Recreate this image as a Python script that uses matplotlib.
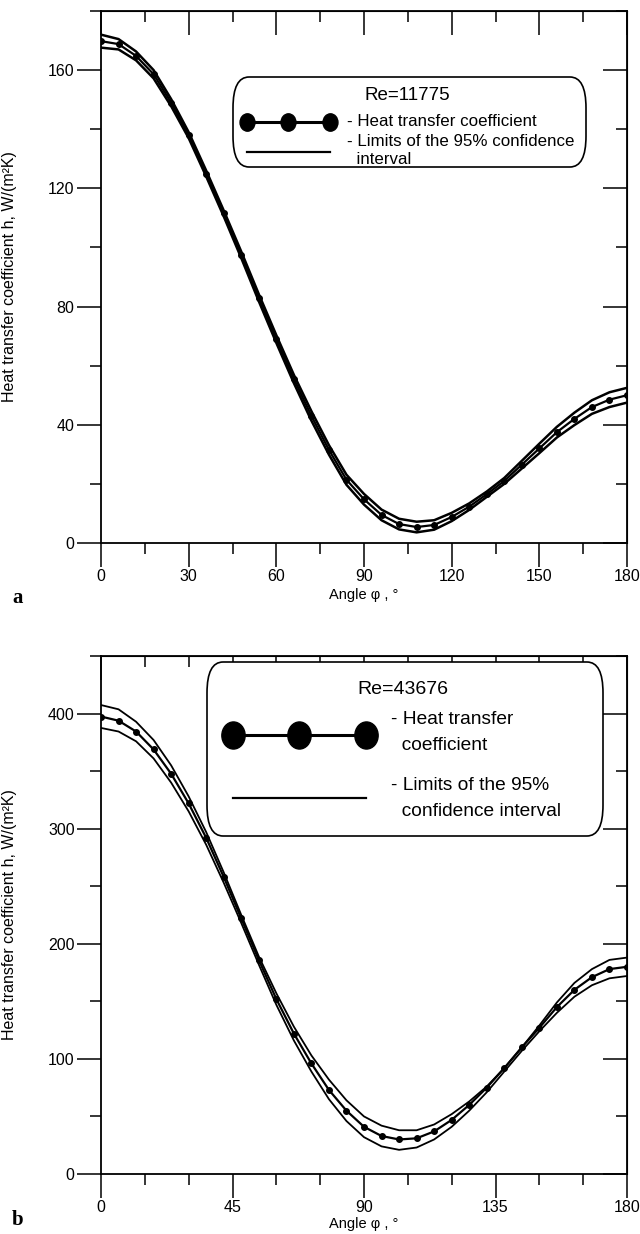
import numpy as np
import matplotlib.pyplot as plt
from matplotlib.patches import FancyBboxPatch
from matplotlib.lines import Line2D
from matplotlib.path import Path
from matplotlib.transforms import Affine2D
from matplotlib.ticker import MultipleLocator

plt.rcParams['font.family'] = ['Liberation Sans', 'DejaVu Sans']

# ---- data ----
angle = np.arange(0, 181, 6)

# Re = 11775
h_a = [169.8, 168.8, 164.8, 158.6, 149.0, 138.0, 125.0, 111.5, 97.5, 83.0,
       69.0, 55.5, 43.0, 31.5, 21.4, 14.8, 9.5, 6.4, 5.4, 6.1,
       8.8, 12.3, 16.5, 21.0, 26.5, 32.0, 37.5, 42.0, 46.0, 48.5, 50.0]
hi_a = [172.0, 170.5, 166.3, 160.0, 150.2, 139.0, 126.0, 112.5, 98.6, 84.2,
        70.3, 56.9, 44.6, 33.1, 23.1, 16.6, 11.3, 8.2, 7.2, 7.7,
        10.2, 13.4, 17.4, 22.0, 27.8, 33.6, 39.3, 44.1, 48.3, 51.0, 52.5]
lo_a = [167.6, 167.0, 163.3, 157.2, 147.8, 137.0, 124.0, 110.5, 96.4, 81.8,
        67.7, 54.1, 41.4, 29.9, 19.7, 13.0, 7.7, 4.6, 3.6, 4.5,
        7.4, 11.2, 15.6, 20.0, 25.2, 30.4, 35.7, 39.9, 43.7, 46.0, 47.5]

# Re = 43676
h_b = [397.4, 393.8, 384.4, 368.8, 347.7, 321.9, 292.0, 258.0, 222.0, 186.0,
       152.0, 122.0, 96.0, 73.0, 55.0, 41.0, 33.0, 30.0, 31.0, 37.0,
       47.0, 60.0, 75.0, 92.0, 110.0, 127.0, 145.0, 160.0, 171.0, 178.0, 180.0]
hi_b = [407.4, 403.7, 392.9, 377.0, 355.0, 328.0, 297.0, 262.0, 225.0, 189.0,
        157.0, 128.0, 103.0, 82.0, 64.0, 50.0, 42.0, 38.0, 38.0, 43.0,
        52.0, 63.0, 76.0, 92.0, 110.0, 129.0, 149.0, 166.0, 178.0, 186.0, 188.0]
lo_b = [387.5, 384.4, 375.9, 361.0, 340.0, 315.0, 286.0, 253.0, 218.0, 182.0,
        147.0, 116.0, 89.0, 65.0, 46.0, 32.0, 24.0, 21.0, 23.0, 30.0,
        41.0, 55.0, 71.0, 89.0, 107.0, 124.0, 140.0, 154.0, 164.0, 170.0, 172.0]

W, H = 640, 1234
fig = plt.figure(figsize=(W / 100, H / 100), dpi=100)

# slightly tall ellipse, as the legend markers in the scan
tall_dot = Path.unit_circle().transformed(Affine2D().scale(0.86, 1.0))


def px_axes(left, top, right, bottom):
    return fig.add_axes([left / W, 1 - bottom / H, (right - left) / W, (bottom - top) / H])


def style_axes(ax, xmaj, xmin, ymaj, ymin, xlabel_px):
    ax.xaxis.set_major_locator(MultipleLocator(xmaj))
    ax.xaxis.set_minor_locator(MultipleLocator(xmin))
    ax.yaxis.set_major_locator(MultipleLocator(ymaj))
    ax.yaxis.set_minor_locator(MultipleLocator(ymin))
    for s in ax.spines.values():
        s.set_linewidth(1.3)
    ax.tick_params(which='both', direction='out', width=1.1, labelsize=11.5,
                   top=False, right=False)
    ax.tick_params(which='major', length=17, pad=2)
    ax.tick_params(which='minor', length=8)
    # inward mirrored ticks on top and right
    sec = ax.secondary_xaxis('top')
    sec.xaxis.set_major_locator(MultipleLocator(xmaj))
    sec.xaxis.set_minor_locator(MultipleLocator(xmin))
    sec.tick_params(which='both', direction='in', width=1.1, labeltop=False)
    sec.tick_params(which='major', length=17)
    sec.tick_params(which='minor', length=8)
    sec2 = ax.secondary_yaxis('right')
    sec2.yaxis.set_major_locator(MultipleLocator(ymaj))
    sec2.yaxis.set_minor_locator(MultipleLocator(ymin))
    sec2.tick_params(which='both', direction='in', width=1.1, labelright=False)
    sec2.tick_params(which='major', length=17)
    sec2.tick_params(which='minor', length=8)
    ax.set_xlabel('Angle φ , °', fontsize=10.5, va='center')
    # place x label at a fixed pixel distance below the axis
    h_px = ax.get_position().height * H
    ax.xaxis.set_label_coords(0.5, -xlabel_px / h_px)
    ax.set_ylabel('Heat transfer coefficient h, W/(m²K)', fontsize=11.5)
    ax.yaxis.set_label_coords(-0.16, 0.5)


def legend_box(x0, y0, x1, y1, title, lines_text, lim_text, mk, lw_main, fs, fs_title,
               text_x, marker_y, mk_x, lim_y, text_y, lim_text_y, title_xy):
    # all coordinates in figure pixels (from top-left)
    tr = fig.transFigure
    box = FancyBboxPatch((x0 / W, 1 - y1 / H), (x1 - x0) / W, (y1 - y0) / H,
                         boxstyle='round,pad=0,rounding_size=0.025', transform=tr,
                         facecolor='white', edgecolor='black', linewidth=1.2)
    fig.patches.append(box)
    fig.text(title_xy[0] / W, 1 - title_xy[1] / H, title, ha='center', va='center',
             fontsize=fs_title)
    fig.lines.append(Line2D([m / W for m in mk_x], [1 - marker_y / H] * 3, transform=tr,
                            color='black', lw=lw_main, marker=tall_dot, markersize=mk))
    fig.lines.append(Line2D([mk_x[0] / W, mk_x[-1] / W], [1 - lim_y / H] * 2,
                            transform=tr, color='black', lw=1.6))
    for i, t in enumerate(lines_text):
        fig.text(text_x / W, 1 - text_y[i] / H, t, ha='left', va='center', fontsize=fs)
    for i, t in enumerate(lim_text):
        fig.text(text_x / W, 1 - lim_text_y[i] / H, t, ha='left', va='center', fontsize=fs)


# ---- panel a ----
ax1 = px_axes(101, 11, 627, 543)
ax1.plot(angle, hi_a, color='black', lw=1.8)
ax1.plot(angle, lo_a, color='black', lw=1.8)
ax1.plot(angle, h_a, color='black', lw=1.6, marker='o', markersize=4)
ax1.set_xlim(0, 180)
ax1.set_ylim(0, 180)
style_axes(ax1, 30, 15, 40, 20, 52)
fig.text(12 / W, 1 - 598 / H, 'a', fontsize=15, fontweight='bold',
         family='Liberation Serif', va='center')

legend_box(233, 77, 586, 167, 'Re=11775',
           ['- Heat transfer coefficient'],
           ['- Limits of the 95% confidence', '  interval'],
           mk=12.5, lw_main=2.2, fs=12.2, fs_title=13.5, text_x=347, marker_y=122,
           mk_x=[247, 288, 330], lim_y=152, text_y=[122], lim_text_y=[142, 159],
           title_xy=(407, 96))

# ---- panel b ----
ax2 = px_axes(101, 656, 627, 1174)
ax2.plot(angle, hi_b, color='black', lw=1.3)
ax2.plot(angle, lo_b, color='black', lw=1.3)
ax2.plot(angle, h_b, color='black', lw=1.6, marker='o', markersize=4)
ax2.set_xlim(0, 180)
ax2.set_ylim(0, 450)
style_axes(ax2, 45, 15, 100, 50, 50)
fig.text(12 / W, 1 - 1220 / H, 'b', fontsize=15, fontweight='bold',
         family='Liberation Serif', va='center')

legend_box(207, 662, 603, 836, 'Re=43676',
           ['- Heat transfer', '  coefficient'],
           ['- Limits of the 95%', '  confidence interval'],
           mk=19.5, lw_main=2.2, fs=13.8, fs_title=14, text_x=391, marker_y=735,
           mk_x=[233, 299, 366], lim_y=798, text_y=[720, 745], lim_text_y=[785, 811],
           title_xy=(403, 690))

fig.savefig('out.png', dpi=100)
